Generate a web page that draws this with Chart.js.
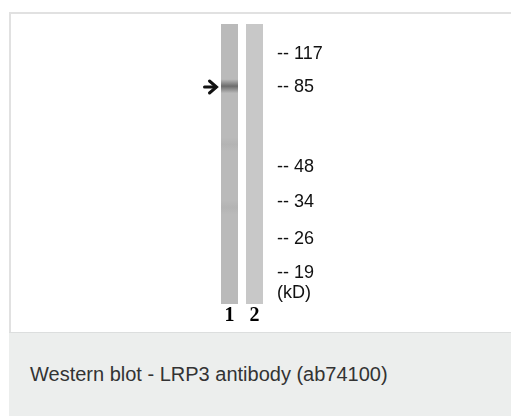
<!DOCTYPE html>
<html>
<head>
<meta charset="utf-8">
<script src="https://cdn.jsdelivr.net/npm/chart.js@4.4.0/dist/chart.umd.min.js"></script>
<style>
  html, body { margin: 0; padding: 0; background: #fff; width: 511px; height: 417px; overflow: hidden; }
  #frame { position: absolute; left: 9px; top: 12px; width: 520px; height: 320px;
           border-left: 2px solid #e1e1e1; border-top: 2px solid #e1e1e1; box-sizing: border-box; }
  #caption { position: absolute; left: 9px; top: 332px; width: 520px; height: 84px;
             background: #eceeed; border-top: 1px solid #dcdede; box-sizing: border-box;
             font-family: "Liberation Sans", Arial, sans-serif; font-size: 20px; color: #333;
             line-height: 82px; padding-left: 21px; }
  #blot { position: absolute; left: 0; top: 0; }
</style>
</head>
<body>
<div id="frame"></div>
<div id="caption">Western blot - LRP3 antibody (ab74100)</div>
<canvas id="blot" width="511" height="417"></canvas>
<script>
// lanes on the membrane
const lanes = ['1', '2'];
// relative migration (0 = top of lane, 1 = bottom)
const laneStart = [0, 0];
const laneEnd = [1, 1];

// molecular weight markers (kD) and where they sit on the lane
const markerKd = ['117', '85', '48', '34', '26', '19'];
const markerRf = [0.107, 0.225, 0.512, 0.637, 0.769, 0.891];
const unitRf = 0.962; // "(kD)" label

// bands seen in the blot
const bandLane = ['1', '1', '1'];
const bandRf = [0.222, 0.43, 0.655];
const bandStrength = [0.62, 0.05, 0.05];

// the arrow points at the main band
const arrowRf = 0.225;

const bandSets = bandRf.map((rf, i) => {
    const data = lanes.map(l => (l === bandLane[i] ? [rf - 0.025, rf + 0.025] : null));
    return {
        data: data,
        order: 0,
        grouped: false,
        barPercentage: 0.68,
        categoryPercentage: 1,
        borderWidth: 0,
        backgroundColor: (ctx) => {
            const chart = ctx.chart;
            const y = chart.scales.y;
            if (!y || !chart.chartArea) return 'rgba(0,0,0,0)';
            const top = y.getPixelForValue(rf - 0.025);
            const bot = y.getPixelForValue(rf + 0.025);
            const g = chart.ctx.createLinearGradient(0, top, 0, bot);
            const s = bandStrength[i];
            g.addColorStop(0, 'rgba(60,60,60,0)');
            g.addColorStop(0.5, 'rgba(60,60,60,' + s + ')');
            g.addColorStop(1, 'rgba(60,60,60,0)');
            return g;
        }
    };
});

// arrow drawn next to the lane, at the band's height
const arrowPlugin = {
    id: 'arrow',
    afterDatasetsDraw(chart) {
        const c = chart.ctx;
        const y = chart.scales.y.getPixelForValue(arrowRf);
        const x = chart.scales.x.getPixelForValue(0) - 13;
        c.save();
        c.strokeStyle = '#111';
        c.lineWidth = 3;
        c.lineCap = 'round';
        c.beginPath();
        c.moveTo(x - 12, y);
        c.lineTo(x - 1, y);
        c.stroke();
        c.beginPath();
        c.moveTo(x - 7, y - 6);
        c.lineTo(x, y);
        c.lineTo(x - 7, y + 6);
        c.stroke();
        c.restore();
    }
};

new Chart(document.getElementById('blot'), {
    type: 'bar',
    data: {
        labels: lanes,
        datasets: [{
            data: lanes.map((l, i) => [laneStart[i], laneEnd[i]]),
            order: 1,
            grouped: false,
            barPercentage: 0.68,
            categoryPercentage: 1,
            borderWidth: 0,
            backgroundColor: ['#bababa', '#c8c8c8']
        }].concat(bandSets)
    },
    options: {
        responsive: false,
        animation: false,
        layout: { padding: { left: 217, top: 24, right: 184, bottom: 89 } },
        plugins: { legend: { display: false }, tooltip: { enabled: false } },
        scales: {
            x: {
                type: 'category',
                grid: { display: false, drawTicks: false },
                border: { display: false },
                ticks: {
                    padding: 0,
                    color: '#000',
                    font: { family: '"Liberation Serif", "DejaVu Serif", serif', size: 20, weight: 'bold' }
                },
                afterFit: (s) => { s.height = 24; }
            },
            y: {
                position: 'right',
                min: 0,
                max: 1,
                reverse: true,
                grid: { display: false, drawTicks: false },
                border: { display: false },
                afterBuildTicks: (s) => {
                    s.ticks = markerRf.map(v => ({ value: v })).concat([{ value: unitRf }]);
                },
                ticks: {
                    padding: 10,
                    autoSkip: false,
                    color: '#111',
                    font: { family: '"Liberation Sans", Arial, sans-serif', size: 18 },
                    callback: (v, i) => (i < markerKd.length ? '-- ' + markerKd[i] : '(kD)')
                },
                afterFit: (s) => { s.width = 60; }
            }
        }
    },
    plugins: [arrowPlugin]
});
</script>
</body>
</html>
